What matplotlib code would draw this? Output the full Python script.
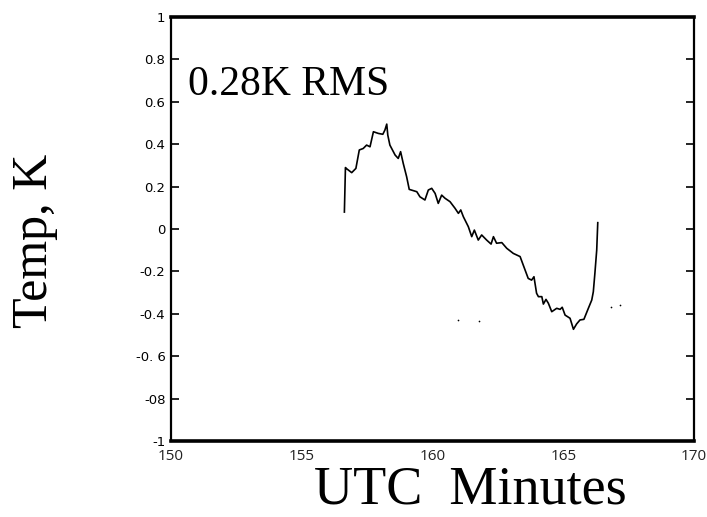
import numpy as np
import matplotlib
matplotlib.use("Agg")
import matplotlib.pyplot as plt

# Temperature residual trace (UTC minutes, K)
utc_minutes = [
    156.63, 156.67, 156.70, 156.91, 157.07, 157.20, 157.35, 157.48, 157.61, 157.74,
    157.93, 158.10, 158.18, 158.25, 158.29, 158.37, 158.57, 158.69, 158.78, 158.88,
    159.01, 159.11, 159.27, 159.40, 159.52, 159.71, 159.84, 159.97, 160.10, 160.22,
    160.35, 160.48, 160.67, 160.86, 160.99, 161.08, 161.18, 161.37, 161.50, 161.60,
    161.75, 161.88, 162.07, 162.24, 162.33, 162.45, 162.65, 162.84, 163.09, 163.35,
    163.47, 163.66, 163.79, 163.88, 163.98, 164.05, 164.18, 164.24, 164.34, 164.43,
    164.56, 164.75, 164.88, 164.96, 165.07, 165.26, 165.39, 165.51, 165.64, 165.79,
    165.96, 166.09, 166.15, 166.21, 166.28, 166.32,
]
temp_k = [
    0.08, 0.29, 0.286, 0.266, 0.286, 0.373, 0.38, 0.396, 0.388, 0.459,
    0.451, 0.447, 0.467, 0.495, 0.443, 0.396, 0.349, 0.333, 0.365, 0.31,
    0.247, 0.187, 0.181, 0.176, 0.152, 0.137, 0.184, 0.192, 0.168, 0.121,
    0.16, 0.145, 0.129, 0.098, 0.074, 0.09, 0.058, 0.011, -0.036, -0.005,
    -0.052, -0.028, -0.052, -0.071, -0.036, -0.067, -0.064, -0.091, -0.115, -0.13,
    -0.17, -0.233, -0.241, -0.225, -0.303, -0.319, -0.319, -0.354, -0.332, -0.35,
    -0.39, -0.374, -0.379, -0.369, -0.406, -0.421, -0.473, -0.448, -0.429, -0.426,
    -0.374, -0.335, -0.296, -0.209, -0.099, 0.03,
]

# isolated specks in the plot area
speck_minutes = [160.98, 161.76, 166.81, 167.17]
speck_temp = [-0.43, -0.433, -0.367, -0.358]

x_ticks = [150, 155, 160, 165, 170]
y_ticks = [1, 0.8, 0.6, 0.4, 0.2, 0, -0.2, -0.4, -0.6, -0.8, -1]
y_tick_labels = ["1", "0.8", "0.6", "0.4", "0.2", "0", "-0.2", "-0.4", "-0. 6", "-08", "-1"]

fig = plt.figure(figsize=(7.07, 5.17), dpi=100)
ax = fig.add_axes([0.2419, 0.147, 0.7397, 0.820])

ax.plot(utc_minutes, temp_k, color="black", linewidth=1.2)
ax.scatter(speck_minutes, speck_temp, s=1.5, color="black", linewidths=0)

ax.set_xlim(150, 170)
ax.set_ylim(-1, 1)

ax.set_xticks(x_ticks)
ax.set_xticklabels([str(v) for v in x_ticks], fontsize=11, family="Open Sans",
                   color="#222222")
ax.set_yticks(y_ticks)
ax.set_yticklabels(y_tick_labels, fontsize=9.5, family="DejaVu Sans")
ax.tick_params(axis="y", direction="in", length=6, width=1.2, pad=4,
               right=True, left=True)
ax.tick_params(axis="x", length=0, pad=6)

for side, width in [("top", 2.6), ("bottom", 2.6), ("left", 1.6), ("right", 1.6)]:
    ax.spines[side].set_linewidth(width)

ax.text(0.033, 0.84, "0.28K RMS", transform=ax.transAxes, fontsize=30,
        family="Liberation Serif", va="center", ha="left")

fig.text(0.049, 0.535, "Temp, K", rotation=90, fontsize=36,
         family="Liberation Serif", va="center", ha="center")
fig.text(0.666, 0.052, "UTC  Minutes", fontsize=39,
         family="Liberation Serif", va="center", ha="center")

fig.savefig("out.png", dpi=100)
